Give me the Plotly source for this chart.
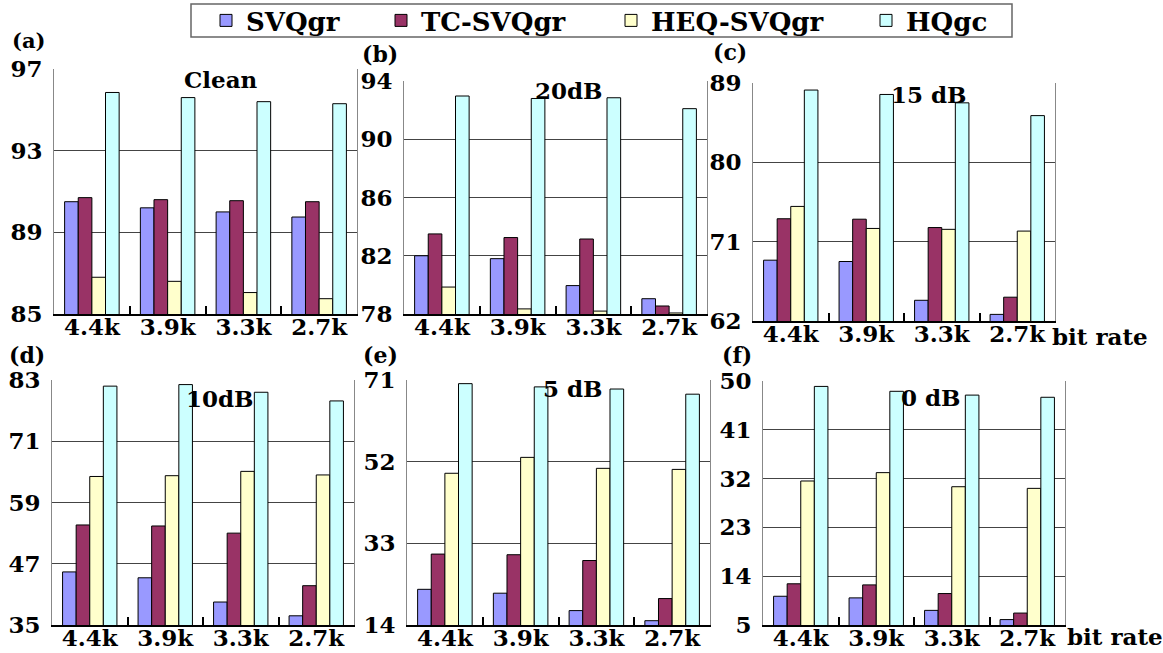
import plotly.graph_objects as go

categories = ["4.4k", "3.9k", "3.3k", "2.7k"]
series_names = ["SVQgr", "TC-SVQgr", "HEQ-SVQgr", "HQgc"]
series_colors = ["#9999FF", "#993366", "#FFFFCC", "#CCFFFF"]

# (a) Clean
a_svqgr = [90.5, 90.2, 90.0, 89.75]
a_tc_svqgr = [90.7, 90.6, 90.55, 90.5]
a_heq_svqgr = [86.8, 86.6, 86.05, 85.75]
a_hqgc = [95.85, 95.6, 95.4, 95.3]
# (b) 20dB
b_svqgr = [82.0, 81.8, 79.95, 79.05]
b_tc_svqgr = [83.5, 83.25, 83.15, 78.55]
b_heq_svqgr = [79.85, 78.35, 78.2, 78.07]
b_hqgc = [92.97, 92.8, 92.85, 92.1]
# (c) 15 dB
c_svqgr = [68.9, 68.75, 64.35, 62.75]
c_tc_svqgr = [73.6, 73.55, 72.6, 64.7]
c_heq_svqgr = [75.0, 72.5, 72.4, 72.2]
c_hqgc = [88.2, 87.7, 86.75, 85.3]
# (d) 10dB
d_svqgr = [45.4, 44.25, 39.5, 36.8]
d_tc_svqgr = [54.6, 54.4, 53.0, 42.7]
d_heq_svqgr = [64.1, 64.25, 65.1, 64.4]
d_hqgc = [81.8, 82.1, 80.6, 78.9]
# (e) 5 dB
e_svqgr = [22.3, 21.4, 17.35, 15.0]
e_tc_svqgr = [30.5, 30.35, 29.0, 20.15]
e_heq_svqgr = [49.3, 53.0, 50.45, 50.2]
e_hqgc = [70.15, 69.4, 68.9, 67.7]
# (f) 0 dB
f_svqgr = [10.3, 10.0, 7.7, 6.0]
f_tc_svqgr = [12.6, 12.4, 10.8, 7.2]
f_heq_svqgr = [31.56, 33.1, 30.5, 30.2]
f_hqgc = [49.0, 48.1, 47.4, 47.0]

panel_labels = ["(a)", "(b)", "(c)", "(d)", "(e)", "(f)"]
panel_titles = ["Clean", "20dB", "15 dB", "10dB", "5 dB", "0 dB"]
panel_ticks = [
    [85, 89, 93, 97],
    [78, 82, 86, 90, 94],
    [62, 71, 80, 89],
    [35, 47, 59, 71, 83],
    [14, 33, 52, 71],
    [5, 14, 23, 32, 41, 50],
]
panel_data = [
    [a_svqgr, a_tc_svqgr, a_heq_svqgr, a_hqgc],
    [b_svqgr, b_tc_svqgr, b_heq_svqgr, b_hqgc],
    [c_svqgr, c_tc_svqgr, c_heq_svqgr, c_hqgc],
    [d_svqgr, d_tc_svqgr, d_heq_svqgr, d_hqgc],
    [e_svqgr, e_tc_svqgr, e_heq_svqgr, e_hqgc],
    [f_svqgr, f_tc_svqgr, f_heq_svqgr, f_hqgc],
]
x_axis_label = "bit rate"

W, H = 1163, 653
FONT = "DejaVu Serif"

# pixel boxes of plot areas: (left, right, top, bottom)
boxes = [
    (54, 357, 69, 314),
    (404, 707, 81, 314),
    (753, 1055, 83, 321),
    (52, 354, 380, 625),
    (407, 710, 380, 625),
    (763, 1065, 381, 625),
]
label_pos = [(28, 41), (380, 54), (730, 52), (27, 355), (380, 355), (737, 355)]
label_size = [21, 22, 22, 22, 22, 22]
title_pos = [(221, 79), (569, 90), (929, 95), (220, 398), (573, 388), (931, 397)]
legend_box = (191, 1012, 4, 37)
legend_x = [206, 381, 611, 866]

fig = go.Figure()
layout = dict(
    width=W, height=H,
    margin=dict(l=0, r=0, t=0, b=0, autoexpand=False),
    paper_bgcolor="white", plot_bgcolor="white",
    barmode="group", bargap=0.28, bargroupgap=0.0,
    font=dict(family=FONT, color="black"),
    showlegend=True,
)
legend_ids = ["legend", "legend2", "legend3", "legend4"]
ly_mid = (legend_box[2] + legend_box[3]) / 2
for j, lid in enumerate(legend_ids):
    layout[lid] = dict(
        orientation="h", x=legend_x[j] / W, xanchor="left",
        y=1 - ly_mid / H, yanchor="middle",
        borderwidth=0, bgcolor="rgba(0,0,0,0)",
        font=dict(family=FONT, size=26, weight="bold", color="black"),
    )

annotations = []
for i in range(6):
    sfx = "" if i == 0 else str(i + 1)
    xa, ya = "x" + sfx, "y" + sfx
    for j, name in enumerate(series_names):
        fig.add_trace(go.Bar(
            x=categories, y=panel_data[i][j], name=name,
            marker=dict(color=series_colors[j], line=dict(color="black", width=1)),
            xaxis=xa, yaxis=ya, legendgroup=name, showlegend=(i == 0),
            legend=legend_ids[j],
        ))
    l, r, t, b = boxes[i]
    ticks = panel_ticks[i]
    layout["xaxis" + sfx] = dict(
        domain=[l / W, r / W], anchor=ya, type="category",
        showgrid=False, showline=True, linecolor="black", linewidth=2,
        ticks="inside", tickson="boundaries", ticklen=8, tickcolor="black", tickwidth=1.5,
        ticklabelstandoff=-9,
        tickfont=dict(family=FONT, size=23, weight="bold", color="black"),
        fixedrange=True,
    )
    layout["yaxis" + sfx] = dict(
        domain=[1 - b / H, 1 - t / H], anchor=xa,
        range=[ticks[0], ticks[-1]], tickvals=ticks,
        showgrid=True, gridcolor="#444444", gridwidth=1,
        showline=True, linecolor="#888888", linewidth=1, mirror=True,
        zeroline=False, ticks="", ticklabelstandoff=6,
        tickfont=dict(family=FONT, size=23, weight="bold", color="black"),
        fixedrange=True,
    )
    lx, lyy = label_pos[i]
    annotations.append(dict(
        text=panel_labels[i], x=lx / W, y=1 - lyy / H, xref="paper", yref="paper",
        showarrow=False, xanchor="center", yanchor="middle",
        font=dict(family=FONT, size=label_size[i], weight="bold", color="black"),
    ))
    tx, ty = title_pos[i]
    annotations.append(dict(
        text=panel_titles[i], x=tx / W, y=1 - ty / H, xref="paper", yref="paper",
        showarrow=False, xanchor="center", yanchor="middle",
        font=dict(family=FONT, size=23, weight="bold", color="black"),
    ))

# "bit rate" labels after the last category of right-hand panels
for (x0, yc) in [(1050, 336), (1065, 636)]:
    annotations.append(dict(
        text=x_axis_label, x=x0 / W, y=1 - yc / H, xref="paper", yref="paper",
        showarrow=False, xanchor="left", yanchor="middle",
        font=dict(family=FONT, size=23, weight="bold", color="black"),
    ))

layout["annotations"] = annotations
bx0, bx1, by0, by1 = legend_box
layout["shapes"] = [dict(
    type="rect", xref="paper", yref="paper",
    x0=bx0 / W, x1=bx1 / W, y0=1 - by1 / H, y1=1 - by0 / H,
    line=dict(color="#666666", width=1.5), fillcolor="rgba(0,0,0,0)", layer="below",
)]
fig.update_layout(**layout)
fig.write_html("out.html")
